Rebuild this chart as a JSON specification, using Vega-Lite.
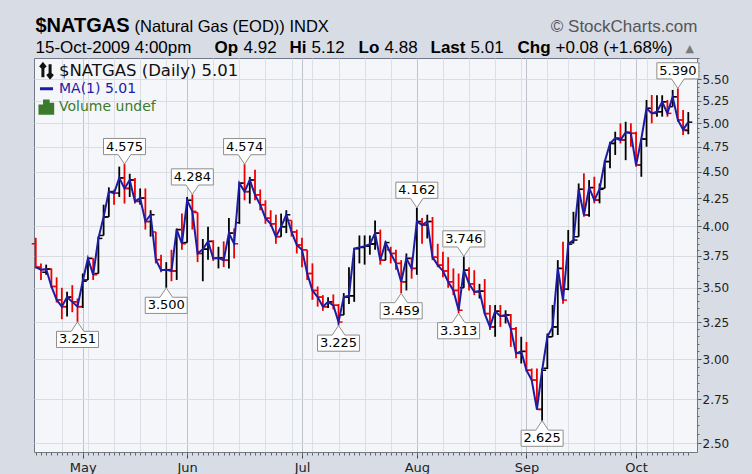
{
"$schema": "https://vega.github.io/schema/vega-lite/v6.json",
"width": 663, "height": 394,
"autosize": {"type": "none"},
"padding": {"left": 34, "top": 58, "right": 55, "bottom": 22},
"background": "#d8dce5",
"config": {
  "view": {"fill": "#f5f6fa", "stroke": "#717887", "strokeWidth": 1},
  "axis": {"labelFont": "DejaVu Sans", "titleFont": "Liberation Sans", "titleColor": "#000000", "titleFontWeight": "normal", "titleFontSize": 17, "titleAngle": 0, "titleAlign": "left", "titleBaseline": "alphabetic", "labelColor": "#222222", "tickColor": "#555555", "domain": false, "grid": false, "ticks": false, "labels": false, "titlePadding": 0}
},
"datasets": {
"bars": [
{"d":"2009-04-20","o":3.85,"h":3.90,"l":3.65,"c":3.66,"dir":"down"},
{"d":"2009-04-21","o":3.66,"h":3.69,"l":3.56,"c":3.64,"dir":"down"},
{"d":"2009-04-22","o":3.62,"h":3.68,"l":3.60,"c":3.645,"dir":"up"},
{"d":"2009-04-23","o":3.645,"h":3.65,"l":3.50,"c":3.51,"dir":"down"},
{"d":"2009-04-24","o":3.51,"h":3.58,"l":3.39,"c":3.41,"dir":"down"},
{"d":"2009-04-27","o":3.41,"h":3.50,"l":3.27,"c":3.36,"dir":"down"},
{"d":"2009-04-28","o":3.36,"h":3.47,"l":3.29,"c":3.43,"dir":"up"},
{"d":"2009-04-29","o":3.43,"h":3.52,"l":3.32,"c":3.395,"dir":"down"},
{"d":"2009-04-30","o":3.395,"h":3.42,"l":3.251,"c":3.36,"dir":"down"},
{"d":"2009-05-01","o":3.36,"h":3.61,"l":3.35,"c":3.55,"dir":"up"},
{"d":"2009-05-04","o":3.56,"h":3.74,"l":3.56,"c":3.73,"dir":"up"},
{"d":"2009-05-05","o":3.73,"h":3.732,"l":3.56,"c":3.60,"dir":"down"},
{"d":"2009-05-06","o":3.61,"h":3.91,"l":3.61,"c":3.895,"dir":"up"},
{"d":"2009-05-07","o":3.92,"h":4.19,"l":3.92,"c":4.08,"dir":"up"},
{"d":"2009-05-08","o":4.08,"h":4.35,"l":4.08,"c":4.31,"dir":"up"},
{"d":"2009-05-11","o":4.31,"h":4.33,"l":4.19,"c":4.295,"dir":"down"},
{"d":"2009-05-12","o":4.295,"h":4.55,"l":4.26,"c":4.44,"dir":"up"},
{"d":"2009-05-13","o":4.44,"h":4.575,"l":4.20,"c":4.34,"dir":"down"},
{"d":"2009-05-14","o":4.34,"h":4.48,"l":4.26,"c":4.42,"dir":"up"},
{"d":"2009-05-15","o":4.42,"h":4.44,"l":4.20,"c":4.22,"dir":"down"},
{"d":"2009-05-18","o":4.22,"h":4.34,"l":4.19,"c":4.25,"dir":"up"},
{"d":"2009-05-19","o":4.25,"h":4.34,"l":3.97,"c":4.04,"dir":"down"},
{"d":"2009-05-20","o":4.04,"h":4.14,"l":3.91,"c":4.10,"dir":"up"},
{"d":"2009-05-21","o":3.95,"h":3.95,"l":3.69,"c":3.72,"dir":"down"},
{"d":"2009-05-22","o":3.72,"h":3.76,"l":3.62,"c":3.636,"dir":"down"},
{"d":"2009-05-26","o":3.636,"h":3.70,"l":3.50,"c":3.64,"dir":"up"},
{"d":"2009-05-27","o":3.64,"h":3.80,"l":3.55,"c":3.63,"dir":"down"},
{"d":"2009-05-28","o":3.63,"h":3.98,"l":3.56,"c":3.97,"dir":"up"},
{"d":"2009-05-29","o":3.97,"h":4.11,"l":3.80,"c":3.85,"dir":"down"},
{"d":"2009-06-01","o":3.86,"h":4.26,"l":3.86,"c":4.23,"dir":"up"},
{"d":"2009-06-02","o":4.23,"h":4.284,"l":3.97,"c":4.13,"dir":"down"},
{"d":"2009-06-03","o":4.12,"h":4.12,"l":3.70,"c":3.77,"dir":"down"},
{"d":"2009-06-04","o":3.77,"h":3.89,"l":3.55,"c":3.805,"dir":"up"},
{"d":"2009-06-05","o":3.805,"h":3.995,"l":3.72,"c":3.87,"dir":"up"},
{"d":"2009-06-08","o":3.87,"h":3.88,"l":3.71,"c":3.73,"dir":"down"},
{"d":"2009-06-09","o":3.73,"h":3.825,"l":3.65,"c":3.735,"dir":"up"},
{"d":"2009-06-10","o":3.735,"h":3.87,"l":3.66,"c":3.715,"dir":"down"},
{"d":"2009-06-11","o":3.715,"h":4.07,"l":3.65,"c":3.94,"dir":"up"},
{"d":"2009-06-12","o":3.94,"h":3.98,"l":3.73,"c":3.85,"dir":"down"},
{"d":"2009-06-15","o":4.03,"h":4.40,"l":4.02,"c":4.39,"dir":"up"},
{"d":"2009-06-16","o":4.39,"h":4.574,"l":4.23,"c":4.31,"dir":"down"},
{"d":"2009-06-17","o":4.31,"h":4.45,"l":4.20,"c":4.42,"dir":"up"},
{"d":"2009-06-18","o":4.42,"h":4.52,"l":4.23,"c":4.28,"dir":"down"},
{"d":"2009-06-19","o":4.28,"h":4.33,"l":4.14,"c":4.19,"dir":"down"},
{"d":"2009-06-22","o":4.19,"h":4.23,"l":4.02,"c":4.07,"dir":"down"},
{"d":"2009-06-23","o":4.07,"h":4.14,"l":3.995,"c":4.02,"dir":"down"},
{"d":"2009-06-24","o":4.02,"h":4.10,"l":3.85,"c":3.91,"dir":"down"},
{"d":"2009-06-25","o":3.91,"h":4.11,"l":3.91,"c":3.995,"dir":"up"},
{"d":"2009-06-26","o":3.995,"h":4.14,"l":3.94,"c":4.10,"dir":"up"},
{"d":"2009-06-29","o":4.05,"h":4.05,"l":3.91,"c":3.95,"dir":"down"},
{"d":"2009-06-30","o":3.95,"h":3.97,"l":3.77,"c":3.84,"dir":"down"},
{"d":"2009-07-01","o":3.84,"h":3.90,"l":3.66,"c":3.80,"dir":"down"},
{"d":"2009-07-02","o":3.80,"h":3.80,"l":3.56,"c":3.61,"dir":"down"},
{"d":"2009-07-06","o":3.61,"h":3.69,"l":3.41,"c":3.48,"dir":"down"},
{"d":"2009-07-07","o":3.48,"h":3.51,"l":3.36,"c":3.43,"dir":"down"},
{"d":"2009-07-08","o":3.43,"h":3.445,"l":3.33,"c":3.36,"dir":"down"},
{"d":"2009-07-09","o":3.36,"h":3.43,"l":3.35,"c":3.395,"dir":"up"},
{"d":"2009-07-10","o":3.395,"h":3.45,"l":3.34,"c":3.37,"dir":"down"},
{"d":"2009-07-13","o":3.37,"h":3.38,"l":3.225,"c":3.25,"dir":"down"},
{"d":"2009-07-14","o":3.30,"h":3.46,"l":3.30,"c":3.43,"dir":"up"},
{"d":"2009-07-15","o":3.43,"h":3.66,"l":3.38,"c":3.44,"dir":"up"},
{"d":"2009-07-16","o":3.44,"h":3.81,"l":3.395,"c":3.81,"dir":"up"},
{"d":"2009-07-17","o":3.81,"h":3.92,"l":3.69,"c":3.82,"dir":"up"},
{"d":"2009-07-20","o":3.82,"h":3.92,"l":3.68,"c":3.83,"dir":"up"},
{"d":"2009-07-21","o":3.83,"h":3.92,"l":3.76,"c":3.847,"dir":"up"},
{"d":"2009-07-22","o":3.85,"h":4.05,"l":3.80,"c":3.94,"dir":"up"},
{"d":"2009-07-23","o":3.94,"h":3.97,"l":3.68,"c":3.715,"dir":"down"},
{"d":"2009-07-24","o":3.715,"h":3.87,"l":3.715,"c":3.86,"dir":"up"},
{"d":"2009-07-27","o":3.80,"h":3.825,"l":3.69,"c":3.77,"dir":"down"},
{"d":"2009-07-28","o":3.77,"h":3.80,"l":3.64,"c":3.69,"dir":"down"},
{"d":"2009-07-29","o":3.69,"h":3.716,"l":3.459,"c":3.546,"dir":"down"},
{"d":"2009-07-30","o":3.546,"h":3.77,"l":3.48,"c":3.73,"dir":"up"},
{"d":"2009-07-31","o":3.73,"h":3.74,"l":3.57,"c":3.65,"dir":"down"},
{"d":"2009-08-03","o":3.65,"h":4.162,"l":3.60,"c":4.04,"dir":"up"},
{"d":"2009-08-04","o":4.04,"h":4.07,"l":3.85,"c":4.01,"dir":"down"},
{"d":"2009-08-05","o":4.01,"h":4.10,"l":3.895,"c":4.04,"dir":"up"},
{"d":"2009-08-06","o":4.04,"h":4.08,"l":3.716,"c":3.74,"dir":"down"},
{"d":"2009-08-07","o":3.74,"h":3.85,"l":3.66,"c":3.676,"dir":"down"},
{"d":"2009-08-10","o":3.676,"h":3.785,"l":3.58,"c":3.63,"dir":"down"},
{"d":"2009-08-11","o":3.63,"h":3.74,"l":3.50,"c":3.546,"dir":"down"},
{"d":"2009-08-12","o":3.546,"h":3.65,"l":3.445,"c":3.48,"dir":"down"},
{"d":"2009-08-13","o":3.48,"h":3.61,"l":3.313,"c":3.334,"dir":"down"},
{"d":"2009-08-14","o":3.50,"h":3.746,"l":3.50,"c":3.636,"dir":"up"},
{"d":"2009-08-17","o":3.636,"h":3.66,"l":3.48,"c":3.53,"dir":"down"},
{"d":"2009-08-18","o":3.53,"h":3.636,"l":3.445,"c":3.47,"dir":"down"},
{"d":"2009-08-19","o":3.47,"h":3.53,"l":3.42,"c":3.475,"dir":"up"},
{"d":"2009-08-20","o":3.475,"h":3.567,"l":3.307,"c":3.31,"dir":"down"},
{"d":"2009-08-21","o":3.31,"h":3.372,"l":3.194,"c":3.216,"dir":"down"},
{"d":"2009-08-24","o":3.216,"h":3.372,"l":3.148,"c":3.327,"dir":"up"},
{"d":"2009-08-25","o":3.327,"h":3.372,"l":3.216,"c":3.292,"dir":"down"},
{"d":"2009-08-26","o":3.292,"h":3.334,"l":3.24,"c":3.30,"dir":"up"},
{"d":"2009-08-27","o":3.30,"h":3.307,"l":3.08,"c":3.203,"dir":"down"},
{"d":"2009-08-28","o":3.203,"h":3.216,"l":3.005,"c":3.037,"dir":"down"},
{"d":"2009-08-31","o":3.037,"h":3.148,"l":2.971,"c":3.05,"dir":"up"},
{"d":"2009-09-01","o":3.05,"h":3.113,"l":2.918,"c":2.928,"dir":"down"},
{"d":"2009-09-02","o":2.928,"h":2.939,"l":2.866,"c":2.866,"dir":"down"},
{"d":"2009-09-03","o":2.866,"h":2.939,"l":2.686,"c":2.69,"dir":"down"},
{"d":"2009-09-04","o":2.69,"h":2.939,"l":2.625,"c":2.928,"dir":"up"},
{"d":"2009-09-08","o":2.94,"h":3.17,"l":2.936,"c":3.148,"dir":"up"},
{"d":"2009-09-09","o":3.148,"h":3.372,"l":3.148,"c":3.216,"dir":"up"},
{"d":"2009-09-10","o":3.216,"h":3.716,"l":3.16,"c":3.65,"dir":"up"},
{"d":"2009-09-11","o":3.65,"h":3.867,"l":3.382,"c":3.408,"dir":"down"},
{"d":"2009-09-14","o":3.49,"h":3.966,"l":3.482,"c":3.847,"dir":"up"},
{"d":"2009-09-15","o":3.86,"h":4.126,"l":3.853,"c":3.881,"dir":"up"},
{"d":"2009-09-16","o":3.909,"h":4.387,"l":3.909,"c":4.332,"dir":"up"},
{"d":"2009-09-17","o":4.332,"h":4.484,"l":4.082,"c":4.097,"dir":"down"},
{"d":"2009-09-18","o":4.097,"h":4.419,"l":4.082,"c":4.348,"dir":"up"},
{"d":"2009-09-21","o":4.348,"h":4.451,"l":4.202,"c":4.232,"dir":"down"},
{"d":"2009-09-22","o":4.232,"h":4.387,"l":4.202,"c":4.332,"dir":"up"},
{"d":"2009-09-23","o":4.341,"h":4.614,"l":4.341,"c":4.60,"dir":"up"},
{"d":"2009-09-24","o":4.60,"h":4.801,"l":4.533,"c":4.784,"dir":"up"},
{"d":"2009-09-25","o":4.784,"h":4.907,"l":4.666,"c":4.838,"dir":"up"},
{"d":"2009-09-28","o":4.838,"h":4.997,"l":4.784,"c":4.82,"dir":"down"},
{"d":"2009-09-29","o":4.82,"h":5.014,"l":4.614,"c":4.90,"dir":"up"},
{"d":"2009-09-30","o":4.90,"h":4.997,"l":4.75,"c":4.89,"dir":"down"},
{"d":"2009-10-01","o":4.89,"h":4.907,"l":4.549,"c":4.565,"dir":"down"},
{"d":"2009-10-02","o":4.565,"h":4.838,"l":4.451,"c":4.83,"dir":"up"},
{"d":"2009-10-05","o":4.83,"h":5.256,"l":4.75,"c":5.162,"dir":"up"},
{"d":"2009-10-06","o":5.162,"h":5.313,"l":4.997,"c":5.106,"dir":"down"},
{"d":"2009-10-07","o":5.106,"h":5.31,"l":5.069,"c":5.124,"dir":"up"},
{"d":"2009-10-08","o":5.124,"h":5.31,"l":5.07,"c":5.236,"dir":"up"},
{"d":"2009-10-09","o":5.236,"h":5.256,"l":5.069,"c":5.106,"dir":"down"},
{"d":"2009-10-12","o":5.18,"h":5.371,"l":5.18,"c":5.293,"dir":"up"},
{"d":"2009-10-13","o":5.293,"h":5.39,"l":5.014,"c":5.033,"dir":"down"},
{"d":"2009-10-14","o":5.033,"h":5.143,"l":4.872,"c":4.93,"dir":"down"},
{"d":"2009-10-15","o":4.92,"h":5.12,"l":4.88,"c":5.01,"dir":"up"}
],
"labels": [
{"d":"2009-04-30","v":3.251,"k":"low"},
{"d":"2009-05-13","v":4.575,"k":"high"},
{"d":"2009-05-26","v":3.500,"k":"low"},
{"d":"2009-06-02","v":4.284,"k":"high"},
{"d":"2009-06-16","v":4.574,"k":"high"},
{"d":"2009-07-13","v":3.225,"k":"low"},
{"d":"2009-07-29","v":3.459,"k":"low"},
{"d":"2009-08-03","v":4.162,"k":"high"},
{"d":"2009-08-13","v":3.313,"k":"low"},
{"d":"2009-08-14","v":3.746,"k":"high"},
{"d":"2009-09-04","v":2.625,"k":"low"},
{"d":"2009-10-13","v":5.390,"k":"high"}
]
},
"resolve": {"axis": {"x": "independent", "y": "independent"}},
"layer": [
{
 "data": {"name": "bars"},
 "mark": {"type": "rule", "strokeWidth": 1.8},
 "encoding": {
  "x": {"field": "d", "type": "ordinal", "scale": {"type": "point", "padding": 1.15, "align": 0.167},
        "axis": {"orient": "bottom", "values": ["2009-05-01","2009-06-01","2009-07-01","2009-08-03","2009-09-01","2009-10-01"], "grid": true, "gridColor": "#bfc3cc", "ticks": true, "tickSize": 6, "tickColor": "#444444", "labels": true, "labelExpr": "utcFormat(toDate(datum.value), '%b')", "labelFontSize": 13, "labelPadding": 3, "labelAngle": 0, "labelOverlap": false,
                 "title": "$NATGAS", "titleX": 1, "titleY": -421, "titleFontWeight": "bold", "titleFontSize": 20}},
  "y": {"field": "l", "type": "quantitative", "scale": {"type": "log", "domain": [2.453, 5.756], "nice": false},
        "axis": {"orient": "right", "values": [2.5,2.75,3,3.25,3.5,3.75,4,4.25,4.5,4.75,5,5.25,5.5], "grid": true, "gridColor": "#d9dce3", "ticks": true, "tickSize": 4, "labels": true, "format": ".2f", "labelFontSize": 12, "labelPadding": 1, "labelOverlap": false,
                 "title": "© StockCharts.com", "titleX": 0, "titleY": -27, "titleAlign": "right", "titleColor": "#555555", "titleFontSize": 17}},
  "y2": {"field": "h"},
  "stroke": {"field": "dir", "type": "nominal", "scale": {"domain": ["up","down"], "range": ["#000000","#ee0000"]}, "legend": null}
 }
},
{
 "data": {"name": "bars"},
 "mark": {"type": "tick", "orient": "horizontal", "size": 4, "thickness": 1.5, "xOffset": -2, "opacity": 1},
 "encoding": {
  "x": {"field": "d", "type": "ordinal",
        "axis": {"orient": "bottom", "values": ["2009-04-27","2009-05-04","2009-05-11","2009-05-18","2009-05-26","2009-06-08","2009-06-15","2009-06-22","2009-06-29","2009-07-06","2009-07-13","2009-07-20","2009-07-27","2009-08-10","2009-08-17","2009-08-24","2009-08-31","2009-09-08","2009-09-14","2009-09-21","2009-09-28","2009-10-05","2009-10-12"], "grid": true, "gridColor": "#dcdfe6",
                 "title": "(Natural Gas (EOD)) INDX", "titleX": 100, "titleY": -421, "titleFontSize": 16.5}},
  "y": {"field": "o", "type": "quantitative",
        "axis": {"orient": "right", "values": [2.45,2.5,2.55,2.6,2.65,2.7,2.75,2.8,2.85,2.9,2.95,3,3.05,3.1,3.15,3.2,3.25,3.3,3.35,3.4,3.45,3.5,3.55,3.6,3.65,3.7,3.75,3.8,3.85,3.9,3.95,4,4.05,4.1,4.15,4.2,4.25,4.3,4.35,4.4,4.45,4.5,4.55,4.6,4.65,4.7,4.75,4.8,4.85,4.9,4.95,5,5.05,5.1,5.15,5.2,5.25,5.3,5.35,5.4,5.45,5.5,5.55,5.6,5.65,5.7,5.75], "ticks": true, "tickSize": 2, "tickColor": "#666666",
                 "title": "15-Oct-2009 4:00pm", "titleX": -662, "titleY": -6}},
  "fill": {"field": "dir", "type": "nominal", "scale": {"domain": ["up","down"], "range": ["#000000","#ee0000"]}, "legend": null}
 }
},
{
 "data": {"name": "bars"},
 "mark": {"type": "tick", "orient": "horizontal", "size": 4, "thickness": 1.5, "xOffset": 2, "opacity": 1},
 "encoding": {
  "x": {"field": "d", "type": "ordinal",
        "axis": {"orient": "bottom", "ticks": true, "tickSize": 3, "tickColor": "#666666",
                 "title": "Op", "titleX": 180, "titleY": -400, "titleFontWeight": "bold"}},
  "y": {"field": "c", "type": "quantitative",
        "axis": {"orient": "right", "title": "4.92", "titleX": -454, "titleY": -6}},
  "fill": {"field": "dir", "type": "nominal", "scale": {"domain": ["up","down"], "range": ["#000000","#ee0000"]}, "legend": null}
 }
},
{
 "data": {"name": "bars"},
 "mark": {"type": "line", "strokeWidth": 2},
 "encoding": {
  "x": {"field": "d", "type": "ordinal",
        "axis": {"orient": "bottom", "title": "Hi", "titleX": 255, "titleY": -400, "titleFontWeight": "bold"}},
  "y": {"field": "c", "type": "quantitative",
        "axis": {"orient": "right", "title": "5.12", "titleX": -386, "titleY": -6}},
  "color": {"datum": "MA(1) 5.01",
            "scale": {"domain": ["$NATGAS (Daily) 5.01", "MA(1) 5.01", "Volume undef"], "range": ["#111111", "#1c1ca4", "#3b7a2c"]},
            "legend": {"orient": "top-left", "title": null, "offset": 1, "padding": 3, "labelFont": "DejaVu Sans", "labelOffset": 4, "rowPadding": 0, "clipHeight": 17.5, "labelLimit": 400, "symbolSize": 170, "symbolStrokeWidth": 3,
                       "labelFontSize": {"expr": "datum.label === '$NATGAS (Daily) 5.01' ? 16.5 : 14"},
                       "symbolType": {"expr": "datum.label === 'MA(1) 5.01' ? 'stroke' : (datum.label === 'Volume undef' ? 'M-1,1V-0.1H-0.45V1ZM-0.3,1V-0.9H0.25V1ZM0.4,1V-0.4H0.95V1Z' : 'M-0.55,1V-1M-0.95,-0.5L-0.55,-1L-0.15,-0.5M0.55,-1V1M0.15,0.5L0.55,1L0.95,0.5')"},
                       "symbolFillColor": {"expr": "datum.label === 'Volume undef' ? '#3b7a2c' : 'transparent'"},
                       "labelColor": {"expr": "datum.label === 'MA(1) 5.01' ? '#1c1ca4' : (datum.label === 'Volume undef' ? '#3b7a2c' : '#111111')"}}}
 }
},
{
 "data": {"name": "labels"},
 "transform": [{"filter": "datum.k === 'high'"}],
 "mark": {"type": "point", "shape": "M0,0L0.3,-0.45L1,-0.45L1,-1.22L-1,-1.22L-1,-0.45L-0.3,-0.45Z", "size": 1764, "filled": true, "fill": "#ffffff", "stroke": "#8e8e8e", "strokeWidth": 1, "opacity": 1},
 "encoding": {
  "x": {"field": "d", "type": "ordinal",
        "axis": {"orient": "bottom", "title": "Lo", "titleX": 324, "titleY": -400, "titleFontWeight": "bold"}},
  "y": {"field": "v", "type": "quantitative",
        "axis": {"orient": "right", "title": "4.88", "titleX": -313, "titleY": -6}}
 }
},
{
 "data": {"name": "labels"},
 "transform": [{"filter": "datum.k === 'low'"}],
 "mark": {"type": "point", "shape": "M0,0L0.3,0.45L1,0.45L1,1.22L-1,1.22L-1,0.45L-0.3,0.45Z", "size": 1764, "filled": true, "fill": "#ffffff", "stroke": "#8e8e8e", "strokeWidth": 1, "opacity": 1},
 "encoding": {
  "x": {"field": "d", "type": "ordinal",
        "axis": {"orient": "bottom", "title": "Last", "titleX": 396, "titleY": -400, "titleFontWeight": "bold"}},
  "y": {"field": "v", "type": "quantitative",
        "axis": {"orient": "right", "title": "5.01", "titleX": -227, "titleY": -6}}
 }
},
{
 "data": {"name": "labels"},
 "transform": [{"filter": "datum.k === 'high'"}],
 "mark": {"type": "text", "dy": -17.5, "font": "DejaVu Sans", "fontSize": 13, "baseline": "middle", "color": "#000000"},
 "encoding": {
  "x": {"field": "d", "type": "ordinal",
        "axis": {"orient": "bottom", "title": "Chg", "titleX": 483, "titleY": -400, "titleFontWeight": "bold"}},
  "y": {"field": "v", "type": "quantitative",
        "axis": {"orient": "right", "title": "+0.08 (+1.68%)", "titleX": -142, "titleY": -6}},
  "text": {"field": "v", "type": "quantitative", "format": ".3f"}
 }
},
{
 "data": {"name": "labels"},
 "transform": [{"filter": "datum.k === 'low'"}],
 "mark": {"type": "text", "dy": 17.5, "font": "DejaVu Sans", "fontSize": 13, "baseline": "middle", "color": "#000000"},
 "encoding": {
  "x": {"field": "d", "type": "ordinal",
        "axis": {"orient": "bottom", "title": "▲", "titleX": 651, "titleY": -401, "titleFont": "DejaVu Sans", "titleFontSize": 11, "titleColor": "#7a7a7a"}},
  "y": {"field": "v", "type": "quantitative", "axis": null},
  "text": {"field": "v", "type": "quantitative", "format": ".3f"}
 }
}
]
}
